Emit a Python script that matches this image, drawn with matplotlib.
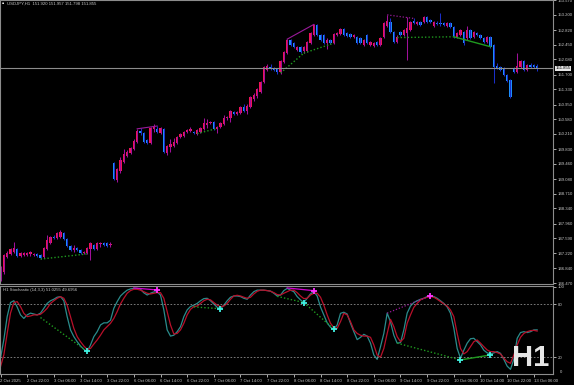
import numpy as np
import matplotlib.pyplot as plt
import matplotlib.transforms as mtrans

plt.rcParams["font.family"] = ["Liberation Sans", "DejaVu Sans"]

# USDJPY H1 candles (bar index 0 = 2 Oct 14:00)
opens = [146.60, 146.75, 147.13, 147.20, 147.25, 147.32, 147.15, 147.17, 147.17, 147.20,
         147.17, 147.20, 147.17, 147.12, 147.32, 147.47, 147.62, 147.60, 147.62, 147.72,
         147.57, 147.40, 147.30, 147.35, 147.30, 147.22, 147.22, 147.32, 147.42, 147.32,
         147.45, 147.47, 147.47, 147.42, 149.48, 149.06, 149.28, 149.51, 149.66, 149.73,
         149.83, 150.01, 150.29, 150.24, 150.06, 149.98, 150.34, 150.34, 150.24, 150.34,
         149.73, 149.88, 149.91, 149.98, 150.14, 150.16, 150.26, 150.29, 150.26, 150.21,
         150.26, 150.34, 150.44, 150.49, 150.51, 150.34, 150.39, 150.46, 150.61, 150.61,
         150.76, 150.71, 150.74, 150.89, 150.79, 150.89, 151.08, 151.16, 151.26, 151.51,
         151.82, 151.89, 151.87, 151.84, 151.77, 152.02, 152.24, 152.57, 152.49, 152.32,
         152.39, 152.29, 152.29, 152.49, 152.69, 152.95, 152.69, 152.69, 152.49, 152.57,
         152.49, 152.69, 152.72, 152.85, 152.74, 152.72, 152.64, 152.64, 152.62, 152.44,
         152.69, 152.44, 152.42, 152.52, 152.44, 152.64, 152.92, 153.02, 152.77, 152.52,
         152.77, 152.69, 152.74, 152.82, 153.05, 152.97, 153.02, 153.02, 153.15, 153.07,
         152.92, 153.00, 153.00, 153.00, 152.92, 153.00, 152.90, 152.64, 152.69, 152.77,
         152.62, 152.82, 152.64, 152.74, 152.69, 152.62, 152.52, 152.64, 152.44, 151.92,
         151.89, 151.87, 151.69, 151.56, 151.87, 151.77, 151.89, 152.04, 151.82, 151.94,
         151.94, 151.920]
highs = [146.90, 147.20, 147.27, 147.35, 147.50, 147.35, 147.25, 147.25, 147.25, 147.27,
         147.22, 147.22, 147.20, 147.37, 147.67, 147.65, 147.67, 147.75, 147.80, 147.75,
         147.60, 147.42, 147.42, 147.37, 147.32, 147.27, 147.37, 147.50, 147.45, 147.50,
         147.50, 147.50, 147.50, 147.50, 149.51, 149.36, 149.63, 149.83, 149.81, 149.88,
         150.08, 150.34, 150.36, 150.26, 150.08, 150.39, 150.46, 150.41, 150.39, 150.36,
         149.93, 150.08, 150.11, 150.16, 150.24, 150.29, 150.34, 150.39, 150.29, 150.34,
         150.39, 150.61, 150.59, 150.54, 150.54, 150.41, 150.51, 150.69, 150.66, 150.81,
         150.79, 150.79, 150.91, 150.96, 150.96, 151.16, 151.24, 151.36, 151.54, 151.92,
         151.97, 151.97, 151.89, 151.87, 152.07, 152.29, 152.59, 152.59, 152.52, 152.42,
         152.42, 152.42, 152.54, 152.77, 152.97, 152.97, 152.72, 152.72, 152.62, 152.59,
         152.74, 152.77, 152.87, 152.87, 152.77, 152.74, 152.72, 152.67, 152.64, 152.59,
         152.72, 152.54, 152.52, 152.54, 152.64, 153.02, 153.20, 153.12, 152.80, 152.69,
         152.80, 152.85, 153.15, 153.05, 153.12, 153.05, 153.05, 153.17, 153.17, 153.10,
         153.05, 153.05, 153.25, 153.02, 153.02, 153.02, 152.92, 152.77, 152.85, 152.80,
         152.92, 152.85, 152.80, 152.77, 152.72, 152.64, 152.67, 152.67, 152.47, 151.99,
         151.92, 151.89, 151.72, 151.59, 151.89, 152.24, 152.07, 152.07, 151.97, 151.99,
         151.97, 151.957]
lows = [146.52, 146.70, 147.10, 147.17, 147.22, 147.12, 147.12, 147.15, 147.15, 147.15,
        147.15, 147.12, 147.07, 147.10, 147.30, 147.45, 147.57, 147.57, 147.60, 147.55,
        147.37, 147.27, 147.25, 147.27, 147.20, 147.20, 147.20, 147.05, 147.30, 147.30,
        147.37, 147.40, 147.37, 147.37, 149.06, 149.00, 149.23, 149.48, 149.63, 149.71,
        149.81, 149.98, 150.18, 149.98, 149.96, 149.96, 150.26, 150.24, 150.21, 149.73,
        149.68, 149.76, 149.88, 149.96, 150.11, 150.14, 150.24, 150.26, 150.21, 150.18,
        150.24, 150.31, 150.36, 150.46, 150.31, 150.24, 150.36, 150.44, 150.56, 150.51,
        150.69, 150.69, 150.71, 150.76, 150.71, 150.86, 151.04, 151.11, 151.24, 151.49,
        151.79, 151.82, 151.79, 151.72, 151.72, 151.99, 152.22, 152.42, 152.37, 152.29,
        152.24, 152.24, 152.27, 152.47, 152.67, 152.67, 152.54, 152.47, 152.34, 152.47,
        152.47, 152.67, 152.69, 152.67, 152.64, 152.62, 152.62, 152.47, 152.47, 152.42,
        152.47, 152.42, 152.39, 152.42, 152.42, 152.62, 152.90, 152.74, 152.49, 152.49,
        152.67, 152.67, 152.07, 152.80, 152.97, 152.95, 152.92, 153.00, 153.00, 153.00,
        152.90, 152.95, 152.92, 152.92, 152.90, 152.87, 152.62, 152.62, 152.67, 152.44,
        152.57, 152.59, 152.62, 152.67, 152.59, 152.49, 152.49, 152.37, 151.49, 151.84,
        151.79, 151.67, 151.51, 151.11, 151.74, 151.74, 151.87, 151.79, 151.79, 151.87,
        151.87, 151.798]
closes = [146.85, 147.17, 147.23, 147.32, 147.35, 147.15, 147.22, 147.22, 147.22, 147.25,
          147.20, 147.15, 147.10, 147.35, 147.55, 147.62, 147.60, 147.72, 147.75, 147.57,
          147.40, 147.30, 147.35, 147.30, 147.22, 147.25, 147.35, 147.47, 147.32, 147.47,
          147.47, 147.42, 147.40, 147.45, 149.08, 149.33, 149.56, 149.71, 149.76, 149.86,
          150.03, 150.29, 150.24, 150.01, 149.98, 150.36, 150.39, 150.26, 150.36, 149.76,
          149.91, 149.96, 150.01, 150.14, 150.21, 150.26, 150.31, 150.34, 150.24, 150.31,
          150.36, 150.49, 150.49, 150.51, 150.34, 150.39, 150.49, 150.61, 150.64, 150.79,
          150.71, 150.76, 150.89, 150.79, 150.91, 151.14, 151.19, 151.34, 151.51, 151.89,
          151.92, 151.84, 151.82, 151.77, 152.04, 152.27, 152.57, 152.44, 152.39, 152.39,
          152.27, 152.39, 152.52, 152.74, 152.95, 152.69, 152.57, 152.49, 152.57, 152.49,
          152.72, 152.74, 152.85, 152.69, 152.67, 152.64, 152.69, 152.49, 152.49, 152.57,
          152.49, 152.52, 152.49, 152.44, 152.62, 153.00, 153.05, 152.77, 152.52, 152.64,
          152.69, 152.82, 152.87, 153.02, 153.00, 153.02, 152.95, 153.15, 153.02, 153.02,
          153.02, 152.97, 152.97, 152.95, 153.00, 152.90, 152.64, 152.74, 152.82, 152.49,
          152.82, 152.62, 152.77, 152.69, 152.62, 152.52, 152.64, 152.39, 151.89, 151.87,
          151.82, 151.69, 151.54, 151.14, 151.77, 151.92, 152.04, 151.82, 151.94, 151.89,
          151.89, 151.855]

# Stochastic (14,3,3): main %K and signal %D
k_line = [19, 40, 66, 82, 84, 77, 68, 64, 68, 70,
          69, 68, 70, 75.5, 81, 84, 85.7, 88, 88.7, 84,
          66, 51, 43.4, 37.7, 32.8, 29, 26.4, 34, 43.4, 49,
          56.6, 59, 59, 62, 75.5, 83, 89.4, 93, 96, 97.4,
          98, 98, 97, 93, 90.5, 92.5, 94, 94, 90.5, 73.6,
          51, 44, 45, 49, 54.7, 66, 73.6, 77.5, 79, 81,
          84, 86.4, 86.8, 84, 80.4, 76.6, 75, 79, 84, 88,
          89.4, 89.4, 88.7, 86.8, 85.7, 90.5, 94.3, 96, 96, 96,
          95.5, 95, 92.5, 89.4, 90.5, 95.5, 98, 96, 94.3, 88.7,
          85, 82, 86.8, 91.7, 94.3, 89.4, 77, 68, 59, 54,
          51.7, 56.6, 69.8, 71, 69, 58.5, 49, 40, 42.6, 46,
          44, 36, 22.6, 17.7, 32, 47, 70, 60, 45, 36,
          36.6, 51, 70, 78, 82, 84, 85.7, 86.8, 88.7, 89.4,
          88.7, 86.8, 84, 81, 77, 69.8, 53, 30, 19, 28,
          36, 41, 41.5, 37.7, 34, 28, 25, 23.8, 25, 26.4,
          24.5, 17.7, 10, 6.4, 17.7, 41.5, 48, 49, 48, 49,
          51, 51.03]
d_line = [9.4, 22.6, 47, 70, 82, 83, 77.4, 69.8, 66, 66.8,
          68, 68, 68.7, 71.7, 75.5, 81, 84, 86.8, 88.7, 86.8,
          79, 66, 52.8, 43.4, 37.7, 32.8, 29, 30, 35, 39.6,
          45, 51, 54.7, 58.5, 64, 71.7, 80.4, 86.8, 92.5, 95.5,
          97, 97, 96, 94.3, 92.5, 91.7, 92.5, 93.2, 93.2, 86.8,
          71.7, 56.6, 46.4, 47, 51, 58.5, 68, 74.3, 77.4, 78,
          81, 84, 85.7, 85, 82, 79, 77.4, 78, 81, 85.7,
          89.4, 90.2, 89.4, 88, 86.8, 88, 91.7, 94.7, 96, 96,
          95.5, 94.7, 93.2, 91, 90.5, 92.5, 94.3, 96, 96, 93.2,
          89.4, 86.4, 86.8, 90.5, 92.5, 92.5, 88, 79, 68, 58.5,
          53.6, 52.8, 60.4, 69.8, 68, 60.4, 51, 47, 45, 44,
          44, 42.6, 34, 22.6, 20, 30, 47, 63, 54.7, 43.4,
          37.7, 41.5, 58.5, 68, 76.6, 81, 85, 86.8, 88, 88.7,
          88, 85.7, 83, 80.4, 78, 73.6, 66, 47, 30, 23.8,
          26.4, 32, 37.7, 39.6, 36, 32, 28.3, 26.4, 26.4, 25.3,
          23.8, 19, 15, 13.2, 22.6, 34, 42.6, 47, 49, 50.2,
          50.5, 49.7]

# divergence arrows (bar, value)
cyan_bars = [26, 66, 91, 100, 138, 147]
cyan_vals = [26.7, 75, 82, 52, 17, 22.7]
mag_bars = [47, 94, 129]
mag_vals = [96.2, 95.4, 89.7]

# divergence lines: (bar0, val0, bar1, val1, kind)
price_lines = [(12, 147.07, 26, 147.20, "gdot"),
               (41, 150.34, 47, 150.41, "psolid"),
               (59, 150.22, 65, 150.35, "gdot"),
               (86, 152.59, 94, 152.96, "psolid"),
               (84, 151.74, 91, 152.24, "gdot"),
               (91, 152.24, 100, 152.49, "gdot"),
               (116, 153.20, 124, 153.11, "pdot"),
               (119, 152.63, 136, 152.65, "gdot"),
               (136, 152.65, 147, 152.40, "gsolid")]
stoch_lines = [(12, 65, 26, 26.7, "gdot"),
               (40, 98.5, 47, 96.2, "msolid"),
               (58, 77, 66, 75, "gdot"),
               (86, 98.5, 94, 95.4, "msolid"),
               (83, 89, 91, 82, "gdot"),
               (91, 82, 100, 52, "gdot"),
               (116, 70, 129, 89.7, "pdot"),
               (119, 36, 138, 17, "gdot"),
               (138, 17, 147, 22.7, "gsolid")]

price_ticks = [146.470, 146.840, 147.220, 147.590, 147.960, 148.340, 148.710,
               149.080, 149.460, 149.830, 150.210, 150.580, 150.950, 151.330,
               151.700, 152.080, 152.450, 152.820, 153.200, 153.570]
time_labels = ["2 Oct 2025", "2 Oct 22:00", "3 Oct 06:00", "3 Oct 14:00", "3 Oct 22:00",
               "6 Oct 06:00", "6 Oct 14:00", "6 Oct 22:00", "7 Oct 06:00", "7 Oct 14:00",
               "7 Oct 22:00", "8 Oct 06:00", "8 Oct 14:00", "8 Oct 22:00", "9 Oct 06:00",
               "9 Oct 14:00", "9 Oct 22:00", "10 Oct 06:00", "10 Oct 14:00", "10 Oct 22:00",
               "13 Oct 06:00"]
last_price = 151.855

styles = {"gdot": dict(color="#1f9a1f", ls=(0, (1, 1.5)), lw=1.0),
          "gsolid": dict(color="#1f9a1f", ls="-", lw=1.0),
          "psolid": dict(color="#9a1a9a", ls="-", lw=0.8),
          "pdot": dict(color="#9a1a9a", ls=(0, (1, 1.5)), lw=0.9),
          "msolid": dict(color="#d000d0", ls="-", lw=0.9)}

TXT = "#c8c8c8"
FS = 3.1

W, H = 574, 385
fig = plt.figure(figsize=(W / 100, H / 100), dpi=100, facecolor="black")

def px_axes(x0, y0, x1, y1):
    a = fig.add_axes([x0 / W, 1 - y1 / H, (x1 - x0) / W, (y1 - y0) / H])
    a.set_facecolor("black")
    for s in a.spines.values():
        s.set_color("#8c8c8c")
        s.set_linewidth(0.8)
    return a

ax = px_axes(0, 0, 553, 284)
ax2 = px_axes(0, 286, 553, 374)

n = len(closes)
x = np.arange(n)
o = np.array(opens); c = np.array(closes)
hi = np.array(highs); lo = np.array(lows)
up = c >= o

# candles
ax.vlines(x[up], lo[up], hi[up], color="#a0109a", lw=0.75)
ax.vlines(x[~up], lo[~up], hi[~up], color="#1a2fc8", lw=0.75)
body_lo = np.minimum(o, c)
body_h = np.maximum(np.abs(c - o), 0.015)
ax.bar(x[up], body_h[up], bottom=body_lo[up], width=0.62, color="#f0145a", lw=0)
ax.bar(x[~up], body_h[~up], bottom=body_lo[~up], width=0.62, color="#1e8fff", lw=0)

for b0, v0, b1, v1, kind in price_lines:
    ax.plot([b0, b1], [v0, v1], **styles[kind])

ax.axhline(last_price, color="#8c8c8c", lw=0.8)

xmin, xmax = -0.15, 165.75
ax.set_xlim(xmin, xmax)
ax.set_ylim(146.445, 153.573)
ax.set_xticks([])
ax.yaxis.tick_right()
ax.set_yticks(price_ticks)
ax.set_yticklabels([f"{p:.3f}" for p in price_ticks])
ax.tick_params(axis="y", colors=TXT, labelsize=FS, length=2, width=0.6, pad=1.5)
tr = mtrans.blended_transform_factory(ax.transAxes, ax.transData)
ax.text(1.0045, last_price, f"{last_price:.3f}", transform=tr, fontsize=FS,
        color="black", va="center", ha="left",
        bbox=dict(boxstyle="square,pad=0.2", fc="#e6e6e6", ec="none"))

# stochastic panel
ax2.plot(x, k_line, color="#2a8c8c", lw=0.9)
ax2.plot(x, d_line, color="#b8102a", lw=0.9)
for lvl in (80, 20):
    ax2.axhline(lvl, color="#8c8c8c", ls=(0, (2, 2)), lw=0.6)
for b0, v0, b1, v1, kind in stoch_lines:
    ax2.plot([b0, b1], [v0, v1], **styles[kind])
ax2.plot(cyan_bars, cyan_vals, ls="none", marker="+", ms=4.5, mew=1.3, color="#40f0e0")
ax2.plot(mag_bars, mag_vals, ls="none", marker="+", ms=4.5, mew=1.3, color="#ff30ff")

ax2.set_xlim(xmin, xmax)
ax2.set_ylim(1.1, 100.7)
ax2.yaxis.tick_right()
ax2.set_yticks([100, 80, 20])
ax2.set_yticklabels(["100", "80", "20"])
ax2.tick_params(axis="y", colors=TXT, labelsize=FS, length=2, width=0.6, pad=1.5)
tr2 = mtrans.blended_transform_factory(ax2.transAxes, ax2.transData)
ax2.text(1.012, 3.5, "0", transform=tr2, fontsize=FS, color=TXT, va="center")
ax2.set_xticks(np.arange(0, 8 * len(time_labels), 8))
ax2.set_xticklabels(time_labels)
ax2.tick_params(axis="x", colors=TXT, labelsize=FS, length=2, width=0.6, pad=1.5)
for lbl in ax2.get_xticklabels():
    lbl.set_ha("left")

# header texts
fig.text(2 / W, 1 - 4 / H, "\u25aa", fontsize=4.5, color="white", va="center")
fig.text(7 / W, 1 - 4 / H, "USDJPY,H1  151.920 151.957 151.798 151.855",
         fontsize=FS, color=TXT, va="center")
fig.text(3 / W, 1 - 290 / H, "H1 Stochastic (14,3,3) 51.0255 49.6956",
         fontsize=FS, color=TXT, va="center")
fig.text(531 / W, 1 - 358 / H, "H1", fontsize=21, fontweight="bold",
         color="#e6e6e6", ha="center", va="center")

fig.savefig("out.png", dpi=100, facecolor="black")
